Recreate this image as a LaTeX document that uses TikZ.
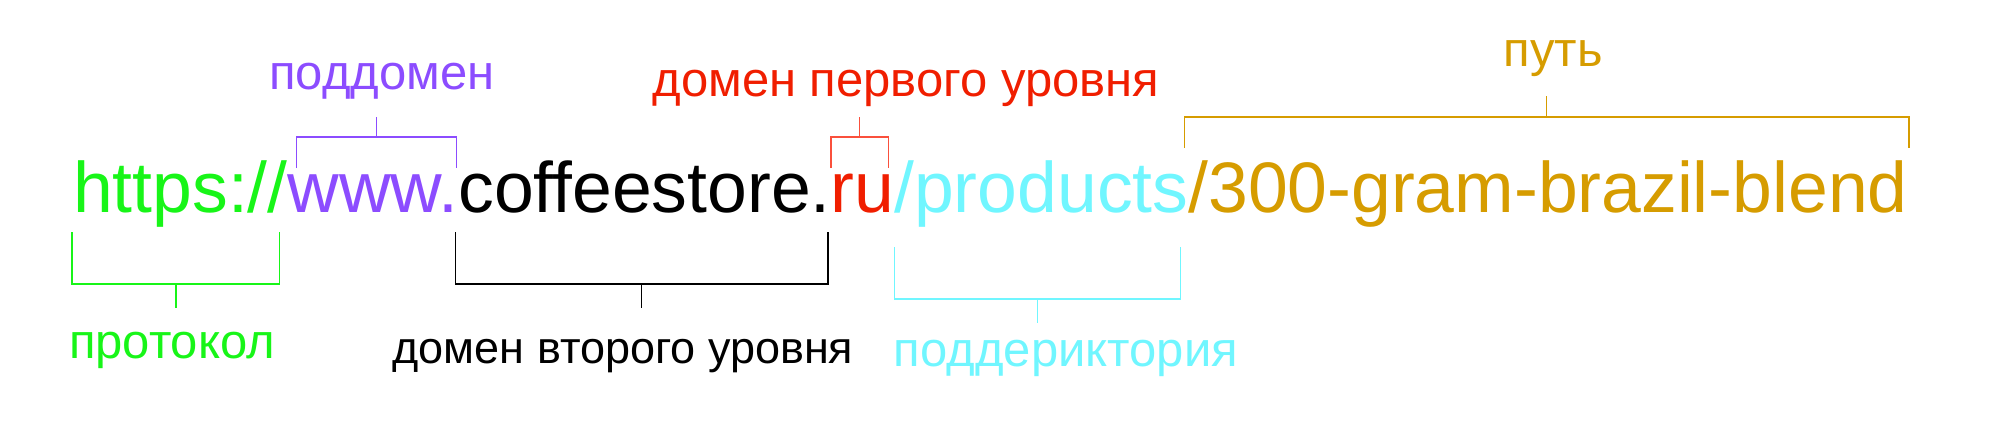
\documentclass[tikz,border=0pt]{standalone}
\usepackage{fontspec}
\setmainfont{Liberation Sans}
\definecolor{cProto}{RGB}{24,245,24}
\definecolor{cSub}{RGB}{140,76,255}
\definecolor{cTld}{RGB}{240,30,0}
\definecolor{cTldLine}{RGB}{250,80,60}
\definecolor{cDir}{RGB}{112,246,255}
\definecolor{cPath}{RGB}{214,156,0}
\tikzset{
  urlpart/.style={anchor=base west,inner sep=0pt,outer sep=0pt,font=\fontsize{71.5}{80}\selectfont},
  lbl/.style={anchor=base,inner sep=0pt,font=\fontsize{49}{56}\selectfont},
  brk/.style={line width=1.6pt}
}

\begin{document}
\begin{tikzpicture}[x=1pt,y=1pt]
            \useasboundingbox (0,0) rectangle (1999,-425);
            % the address itself, piece by piece
            \node[urlpart,text=cProto] (proto) at (73,-212) {https://};
            \node[urlpart,text=cSub] (www) at (proto.base east) {www.};
            \node[urlpart,text=black] (name) at (www.base east) {coffeestore.};
            \node[urlpart,text=cTld] (tld) at (name.base east) {ru};
            \node[urlpart,text=cDir] (dir) at (tld.base east) {/products};
            \node[urlpart,text=cPath] (path) at (dir.base east) {/300-gram-brazil-blend};
            % brackets above
            \draw [brk,cSub] ([shift={(9,44)}]www.base west) |- coordinate[pos=0.75] (subM) ([shift={(-2,75)}]www.base east) -- ++(0,-31);
            \draw [brk,cSub] (subM) -- ++(0,20);
            \draw [brk,cTldLine] ([shift={(0,44)}]tld.base west) |- coordinate[pos=0.75] (tldM) ([shift={(-6,75)}]tld.base east) -- ++(0,-31);
            \draw [brk,cTldLine] (tldM) -- ++(0,20);
            \draw [brk,cPath] ([shift={(-4,64)}]path.base west) |- coordinate[pos=0.75] (pathM) ([shift={(1,95)}]path.base east) -- ++(0,-31);
            \draw [brk,cPath] (pathM) -- ++(0,21);
            % brackets below
            \draw [brk,cProto] ([shift={(-1,-20)}]proto.base west) |- coordinate[pos=0.75] (protoM) ([shift={(-8,-72)}]proto.base east) -- ++(0,52);
            \draw [brk,cProto] (protoM) -- ++(0,-24);
            \draw [brk,black] ([shift={(-3,-20)}]name.base west) |- coordinate[pos=0.75] (nameM) ([shift={(-3,-72)}]name.base east) -- ++(0,52);
            \draw [brk,black] (nameM) -- ++(0,-24);
            \draw [brk,cDir] ([shift={(0,-35)}]dir.base west) |- coordinate[pos=0.75] (dirM) ([shift={(-8,-87)}]dir.base east) -- ++(0,52);
            \draw [brk,cDir] (dirM) -- ++(0,-24);
            % labels
            \node[lbl,text=cSub] (subLbl) at (382,-90) {поддомен};
            \node[lbl,text=cTld] (tldLbl) at (906,-97) {домен первого уровня};
            \node[lbl,text=cPath] (pathLbl) at (1553,-67) {путь};
            \node[lbl,text=cProto] (protoLbl) at (172,-358) {протокол};
            \node[lbl,text=black,font=\fontsize{45}{52}\selectfont] (nameLbl) at (623,-363) {домен второго уровня};
            \node[lbl,text=cDir] (dirLbl) at (1066,-366) {поддериктория};
\end{tikzpicture}
\end{document}
